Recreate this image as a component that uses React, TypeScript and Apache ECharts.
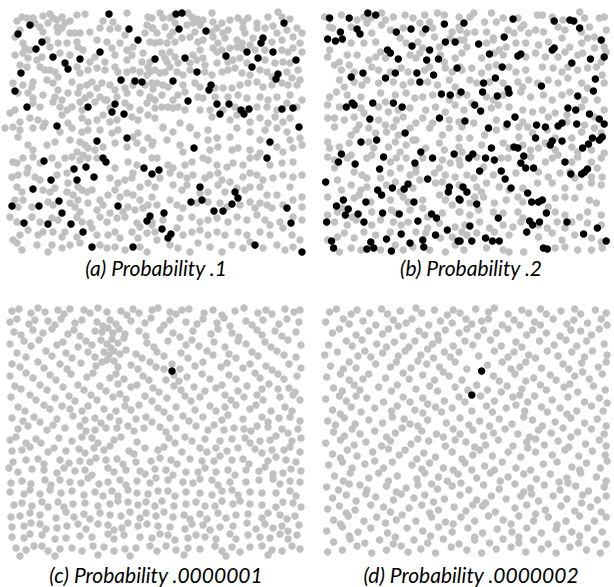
import React, { useEffect, useRef } from "react";
import * as echarts from "echarts";

// Panel (a): probability .1 — gray = not chosen, black = chosen
const panelAGray: number[][] = [
  [17,21],[22,17],[27,18],[33,18],[35,23],[43,16],[50,14],[53,18],[48,23],[57,20],[62,17],[65,23],[70,21],[77,15],[85,14],[103,21],[113,22],[127,13],[148,17],[147,25],
  [15,37],[20,30],[40,27],[43,32],[57,27],[58,32],[62,28],[70,33],[75,33],[80,33],[90,32],[100,28],[110,29],[118,28],[125,35],[145,33],[152,28],
  [23,43],[25,48],[30,50],[47,40],[50,47],[58,43],[67,43],[77,42],[78,47],[83,50],[97,40],[107,42],[112,48],[120,43],[127,50],[133,47],[143,53],[150,42],
  [15,55],[23,53],[28,58],[37,60],[42,57],[60,53],[70,55],[90,62],[95,57],[105,62],[115,55],[127,60],[132,55],[142,62],[148,67],
  [20,65],[27,67],[40,67],[45,70],[50,70],[55,72],[58,77],[77,67],[80,73],[88,70],[97,68],[105,70],[115,67],[118,72],[127,72],[133,70],[140,72],[147,75],[150,72],
  [13,83],[23,85],[32,87],[33,82],[47,80],[53,83],[58,90],[72,82],[80,87],[87,85],[92,82],[97,88],[102,83],[110,85],[115,90],[125,88],[133,85],[145,85],[152,83],
  [18,93],[28,93],[33,98],[43,95],[55,97],[62,100],[68,93],[78,93],[85,98],[90,95],[100,97],[107,100],[117,97],[127,93],[140,93],[150,97],
  [10,113],[15,110],[33,103],[40,107],[53,102],[60,107],[67,110],[72,107],[80,102],[82,110],[95,102],[105,100],[110,108],[125,103],[130,107],[140,110],[147,103],
  [5,128],[13,127],[20,122],[30,118],[38,120],[45,123],[62,115],[68,123],[82,118],[88,122],[97,120],[103,115],[110,122],[117,120],[132,117],[138,120],[148,115],
  [152,18],[160,13],[163,18],[170,18],[173,16],[188,13],[192,17],[197,19],[203,20],[212,13],[213,22],[222,23],[230,20],[238,18],[243,22],[248,18],[257,23],[268,17],[278,12],[282,17],[290,19],
  [153,28],[157,33],[165,27],[173,32],[175,23],[187,25],[193,23],[200,25],[195,32],[212,32],[217,28],[223,33],[228,30],[243,28],[245,33],[257,28],[265,28],[273,26],[277,33],[287,30],[297,28],[302,33],
  [155,43],[160,42],[167,43],[170,36],[175,42],[182,38],[190,37],[198,42],[203,40],[213,37],[218,43],[225,38],[237,40],[242,43],[250,45],[253,38],[272,42],[282,40],[293,37],[300,43],
  [162,53],[165,58],[170,52],[175,57],[193,55],[200,50],[203,58],[213,48],[217,52],[222,50],[230,48],[237,47],[242,48],[255,50],[265,50],[282,50],[288,52],[293,48],[302,52],
  [150,62],[167,62],[170,67],[178,63],[190,63],[197,60],[205,65],[217,63],[228,62],[233,60],[240,58],[247,63],[265,60],[275,63],[283,62],[290,63],[298,70],
  [155,70],[160,73],[165,72],[177,72],[183,75],[190,70],[205,72],[212,75],[222,72],[228,70],[235,68],[242,73],[250,75],[260,70],[267,72],[272,77],[287,72],[292,78],[300,80],
  [157,83],[153,89],[163,85],[168,87],[183,85],[185,92],[195,83],[200,87],[215,88],[223,88],[232,88],[240,85],[248,83],[257,82],[263,87],[272,85],[282,83],[288,85],[297,85],
  [150,98],[155,100],[162,95],[173,100],[178,95],[198,97],[203,98],[215,97],[228,97],[238,95],[247,98],[260,97],[268,100],[277,97],[290,95],[302,100],
  [155,108],[162,107],[168,107],[173,108],[178,107],[185,110],[200,110],[210,110],[223,110],[235,107],[257,107],[267,107],[277,110],[287,103],[297,107],
  [155,118],[163,127],[180,123],[190,127],[212,117],[230,120],[237,115],[250,122],[260,118],[268,123],[275,117],[283,122],[290,118],
  [18,137],[20,130],[33,128],[43,127],[60,132],[72,128],[82,132],[88,130],[100,130],[112,133],[118,130],[133,137],[138,133],[148,138],
  [28,145],[33,150],[47,145],[55,142],[70,140],[80,142],[85,145],[88,148],[77,152],[83,155],[95,150],[103,147],[115,143],[127,147],[137,143],[143,150],[152,145],
  [13,162],[17,163],[23,158],[33,157],[40,163],[28,168],[52,158],[58,165],[65,158],[72,157],[80,160],[88,158],[97,158],[115,168],[128,162],[137,165],[152,158],[133,173],
  [12,177],[18,175],[27,173],[35,177],[40,180],[57,175],[67,173],[68,183],[78,187],[82,190],[87,192],[92,190],[110,178],[118,183],[125,180],[132,178],[140,187],[148,183],
  [17,187],[22,192],[43,190],[50,192],[55,188],[67,192],[73,195],[78,200],[100,200],[108,195],[115,190],[120,197],[127,193],[133,195],[140,200],[152,197],
  [15,200],[23,200],[18,207],[32,207],[48,202],[53,205],[70,203],[75,207],[80,212],[88,203],[97,210],[103,205],[110,213],[123,212],[128,207],[135,210],[143,208],[148,205],
  [10,217],[17,222],[32,217],[40,222],[52,218],[58,220],[77,217],[82,222],[90,223],[100,217],[107,222],[117,218],[125,217],[137,223],[140,227],[152,225],
  [13,240],[20,235],[28,230],[38,235],[43,232],[53,232],[62,237],[65,232],[77,237],[92,228],[97,235],[108,235],[115,232],[120,238],[132,232],[138,238],[147,233],
  [17,243],[22,250],[37,245],[48,252],[52,245],[62,248],[70,245],[80,243],[100,245],[107,248],[115,247],[125,250],[140,247],[147,252],
  [163,128],[173,132],[190,128],[197,135],[208,130],[217,138],[230,137],[237,128],[250,132],[260,140],[265,130],[277,128],[287,132],[290,140],[300,138],
  [153,142],[167,140],[180,145],[183,152],[208,140],[210,150],[218,147],[232,150],[238,148],[250,150],[260,153],[277,147],[283,152],[293,148],[302,145],
  [157,158],[168,165],[173,168],[185,165],[192,162],[203,158],[208,160],[217,165],[227,167],[233,163],[243,165],[250,158],[257,157],[270,165],[282,163],[293,162],
  [160,178],[170,173],[180,175],[187,178],[193,175],[205,178],[210,175],[218,173],[222,180],[230,182],[243,177],[250,173],[257,175],[263,180],[273,178],[283,175],[293,177],[302,175],
  [155,187],[173,185],[182,190],[187,185],[200,193],[208,192],[218,185],[225,192],[237,188],[245,190],[250,187],[260,187],[267,195],[277,195],[290,187],[302,197],
  [157,205],[170,200],[177,205],[183,208],[197,203],[208,202],[220,203],[227,207],[240,205],[250,202],[255,208],[260,203],[267,205],[272,208],[283,205],[293,200],[302,207],
  [152,222],[163,220],[180,218],[192,217],[200,222],[208,220],[217,218],[228,222],[237,217],[247,220],[257,215],[265,220],[270,225],[280,222],[293,217],[302,220],
  [155,232],[177,228],[183,235],[192,232],[200,230],[208,235],[217,232],[225,235],[238,232],[247,235],[260,232],[270,235],[283,228],[292,235],[300,240],
  [157,240],[170,245],[178,248],[190,252],[198,243],[210,247],[222,252],[232,245],[243,248],[250,242],[263,248],[277,245],[285,250],[293,247]
];
const panelABlack: number[][] = [
  [109,14],[30,25],[18,34],[129,29],[42,42],[138,40],[36,49],[100,52],[53,57],[65,63],[68,69],[80,59],[155,59],[21,73],[121,80],[135,81],[142,82],[15,91],[27,107],[88,107],[115,104],[112,112],[124,114],[57,126],
  [176,14],[182,13],[179,29],[206,31],[284,23],[263,38],[261,43],[185,58],[226,56],[247,52],[258,58],[273,52],[296,60],[252,67],[197,72],[173,81],[278,74],[276,79],[211,85],[209,90],[188,101],[217,104],[229,104],[241,110],[244,114],[249,109],[220,114],[282,109],[293,108],[299,127],
  [97,141],[127,138],[44,161],[103,158],[106,162],[74,169],[86,167],[94,177],[144,168],[152,174],[51,180],[77,180],[33,189],[59,201],[12,206],[39,206],[118,206],[62,213],[150,216],[147,221],[24,223],[48,224],[71,224],[83,232],[92,247],[133,247],
  [270,142],[194,148],[267,158],[159,170],[200,187],[191,202],[202,200],[235,192],[238,198],[232,204],[214,211],[223,211],[287,208],[164,213],[291,223],[162,229],[171,234],[168,238],[255,245],[302,252]
];

// Panel (b): probability .2
const panelBGray: number[][] = [
  [325,17],[333,28],[342,15],[358,20],[365,17],[372,18],[383,13],[387,20],[395,17],[407,15],[415,18],[427,15],[440,13],[447,15],[432,22],[462,17],
  [330,27],[352,27],[368,23],[373,33],[383,25],[392,30],[405,28],[422,23],[425,33],[435,28],[437,37],[455,32],[462,27],
  [330,50],[352,43],[365,43],[377,42],[382,52],[402,38],[408,43],[420,42],[425,48],[442,47],[453,38],[463,40],
  [328,57],[340,62],[348,55],[358,55],[370,60],[377,57],[387,58],[412,55],[418,58],[422,53],[443,55],[447,62],[458,58],
  [335,65],[342,70],[350,65],[355,72],[373,67],[380,70],[392,72],[403,68],[410,72],[427,70],[432,67],[448,68],[455,72],[463,67],
  [340,80],[345,87],[355,82],[363,85],[368,80],[380,83],[395,82],[405,85],[413,82],[430,82],[440,85],[452,80],[458,87],
  [330,97],[337,92],[348,95],[362,97],[382,93],[387,102],[397,95],[408,93],[417,98],[425,97],[435,95],[452,100],[462,95],
  [328,105],[340,107],[362,108],[365,113],[380,107],[390,112],[400,110],[412,108],[428,110],[438,107],[448,112],[458,105],
  [328,118],[335,118],[345,120],[355,117],[360,125],[380,120],[387,125],[398,120],[405,117],[418,123],[425,118],[435,123],[452,120],[462,122],
  [473,17],[477,13],[488,22],[495,13],[500,22],[507,18],[522,18],[528,25],[542,15],[547,15],[557,17],[568,20],[585,12],[590,18],[605,18],[610,17],
  [463,30],[470,33],[478,32],[490,32],[497,38],[512,30],[518,33],[525,28],[533,33],[540,30],[548,32],[563,27],[570,30],[587,32],[595,27],[600,37],[612,30],
  [467,40],[470,47],[490,43],[497,40],[503,50],[510,47],[520,43],[530,43],[543,45],[553,42],[567,38],[575,47],[587,43],[593,38],[600,48],[610,47],
  [465,53],[485,58],[498,53],[507,55],[530,57],[540,53],[550,57],[563,57],[570,52],[583,55],[588,53],[607,62],[612,52],
  [465,70],[475,68],[485,73],[492,67],[500,65],[513,67],[520,72],[530,70],[547,67],[558,68],[567,72],[573,67],[583,70],[593,68],[602,67],[608,75],
  [473,80],[480,83],[493,82],[507,83],[522,82],[527,87],[533,80],[542,83],[553,80],[563,83],[573,78],[587,83],[593,88],[610,83],
  [470,95],[490,97],[497,100],[507,95],[525,92],[535,97],[548,95],[557,100],[567,95],[575,92],[590,100],[603,100],
  [467,110],[475,103],[495,108],[502,105],[513,107],[527,110],[537,112],[547,110],[560,113],[572,115],[587,107],[610,110],
  [477,123],[500,120],[527,122],[532,127],[553,117],[572,122],[590,125],[600,117],
  [335,127],[352,135],[357,130],[370,128],[377,133],[388,132],[395,127],[400,135],[412,128],[418,140],[432,128],[445,135],[452,128],[462,138],
  [328,142],[330,148],[340,147],[350,143],[370,142],[375,148],[390,147],[397,142],[402,152],[408,145],[415,140],[428,148],[442,143],[447,150],[462,147],
  [328,157],[335,160],[348,158],[352,155],[368,158],[373,155],[392,162],[398,158],[408,158],[418,167],[425,158],[445,160],[453,163],[462,160],
  [335,168],[355,172],[363,175],[368,178],[382,178],[392,173],[402,168],[412,175],[418,172],[437,173],[442,168],[448,175],[458,177],
  [338,180],[342,190],[352,185],[362,190],[368,187],[388,185],[397,182],[402,192],[415,188],[422,180],[438,183],[445,182],[462,185],
  [328,197],[355,198],[360,195],[372,202],[392,200],[405,197],[410,202],[425,200],[442,195],[448,200],[455,205],
  [328,215],[338,212],[343,208],[353,217],[373,212],[393,210],[398,213],[412,210],[425,208],[430,217],[445,213],[462,212],
  [335,222],[348,225],[357,220],[373,225],[382,220],[395,222],[403,225],[410,222],[430,228],[442,223],[458,227],
  [328,240],[338,237],[345,233],[355,238],[365,232],[377,235],[392,232],[418,232],[428,233],[443,238],[455,237],[465,232],
  [340,252],[352,248],[362,250],[382,250],[397,245],[405,250],[415,247],[432,250],[448,252],[458,245],
  [465,127],[473,138],[488,135],[500,130],[510,127],[523,127],[523,137],[537,133],[552,130],[560,138],[577,138],[587,132],[600,128],[607,133],
  [465,152],[485,145],[507,143],[513,148],[527,145],[535,150],[543,148],[550,143],[560,150],[577,147],[583,152],[597,150],[610,153],
  [463,165],[480,157],[487,167],[505,158],[512,158],[535,157],[550,162],[557,158],[563,155],[577,162],[583,157],[597,162],[607,158],
  [470,175],[477,178],[497,175],[520,173],[543,172],[553,177],[565,173],[575,172],[580,178],[597,177],[608,177],[603,168],
  [480,187],[485,192],[490,183],[503,187],[513,190],[527,188],[542,183],[557,183],[570,188],[585,187],[597,183],[607,185],
  [473,203],[478,197],[487,197],[498,203],[510,200],[522,197],[527,202],[553,207],[560,198],[570,197],[580,198],[595,200],[602,203],
  [463,212],[473,215],[482,210],[497,212],[507,213],[522,212],[527,218],[560,212],[570,215],[585,217],[593,212],[607,215],
  [468,225],[483,222],[493,228],[507,225],[517,227],[525,222],[543,225],[552,228],[562,222],[570,228],[577,222],[593,223],[607,225],
  [470,235],[480,233],[498,232],[513,235],[543,237],[557,233],[567,240],[580,235],[597,238],[607,242],
  [467,250],[490,248],[507,250],[513,252],[528,252],[560,248],[570,247],[583,250],[597,250],[608,248]
];
const panelBBlack: number[][] = [
  [330,18],[350,18],[369,13],[377,15],[341,32],[328,39],[336,41],[343,39],[358,29],[361,34],[398,32],[413,29],[428,29],[447,24],[448,42],[458,42],[414,46],[432,50],[389,50],[392,53],[400,59],[429,60],[441,59],[460,68],[364,73],[352,77],[387,78],[397,73],[419,73],[422,82],[436,75],[444,94],[453,95],[353,103],[355,105],[347,107],[374,103],[395,103],[404,107],[371,119],[442,118],
  [467,23],[517,19],[559,21],[575,20],[579,21],[585,28],[508,37],[482,44],[493,54],[522,56],[525,54],[557,50],[559,48],[607,40],[610,57],[577,63],[596,59],[506,67],[499,78],[487,83],[601,79],[546,86],[512,89],[513,93],[464,92],[486,92],[501,96],[583,96],[599,91],[478,105],[484,111],[573,108],[581,110],[595,114],[605,119],[468,121],[519,117],[511,124],[492,128],[541,125],[550,127],[563,126],[567,123],[582,124],[610,124],
  [407,133],[362,142],[378,140],[342,154],[339,162],[385,157],[356,164],[423,152],[435,158],[457,154],[381,169],[417,163],[430,179],[326,182],[410,184],[406,189],[394,188],[379,190],[383,195],[452,187],[451,192],[462,199],[344,200],[337,206],[367,202],[416,202],[349,209],[346,215],[359,214],[384,213],[401,214],[434,214],[439,218],[327,222],[365,222],[420,221],[450,230],[403,234],[438,235],[332,241],[334,248],[372,242],[388,239],[412,243],[425,240],[426,247],[461,241],[368,249],[375,248],[393,251],
  [540,138],[557,141],[555,145],[567,141],[598,138],[605,140],[608,137],[594,144],[588,148],[495,148],[518,147],[522,148],[472,158],[476,154],[489,158],[498,160],[528,156],[525,163],[530,168],[538,168],[570,162],[483,171],[505,171],[509,179],[576,174],[587,174],[590,172],[593,169],[466,187],[470,192],[515,188],[532,193],[463,200],[480,204],[536,202],[543,202],[547,200],[551,213],[502,218],[534,221],[537,225],[544,222],[572,222],[603,228],[473,226],[531,232],[589,234],[463,241],[475,241],[489,238],[496,241],[503,241],[612,241],[548,248],[552,249]
];

// Panel (c): probability .0000001
const panelCGray: number[][] = [
  [12,311],[19,309],[31,313],[38,308],[45,312],[58,310],[64,314],[70,309],[84,310],[90,313],[98,308],[107,312],[121,311],[127,315],[133,309],[139,313],[152,310],[158,308],[170,312],[176,314],[182,310],[189,309],[204,313],[213,310],[222,315],[235,311],[244,308],[258,313],[266,310],[272,314],[285,309],[294,312],[300,310],
  [10,322],[17,319],[29,324],[35,320],[48,321],[55,325],[61,319],[75,323],[82,320],[97,322],[103,326],[110,320],[116,324],[131,321],[145,323],[151,318],[164,325],[170,320],[186,322],[197,324],[203,319],[217,323],[224,318],[230,326],[246,321],[252,325],[263,320],[279,324],[287,319],[299,322],
  [14,332],[21,335],[33,330],[43,333],[52,329],[68,334],[74,330],[80,336],[95,331],[102,332],[108,328],[113,333],[119,329],[125,334],[139,331],[146,336],[160,330],[173,333],[180,337],[193,331],[211,334],[218,329],[232,333],[239,337],[257,330],[262,335],[275,331],[282,336],[296,332],
  [10,344],[24,341],[31,346],[39,340],[57,345],[63,342],[78,347],[86,341],[92,345],[101,340],[107,344],[112,339],[118,343],[124,338],[111,348],[147,343],[154,347],[168,341],[186,345],[192,340],[199,346],[214,342],[225,347],[238,341],[246,344],[265,342],[271,347],[288,340],[301,345],
  [17,353],[26,357],[46,351],[52,356],[66,353],[72,358],[88,352],[95,357],[104,352],[109,355],[114,351],[120,354],[126,350],[107,360],[114,361],[136,354],[142,358],[157,352],[164,356],[181,353],[188,358],[207,351],[213,355],[229,354],[236,358],[252,352],[258,356],[277,351],[284,355],[296,357],
  [12,364],[20,367],[38,362],[44,368],[60,364],[67,369],[81,363],[96,366],[102,362],[118,367],[131,365],[138,369],[150,362],[156,367],[164,369],[172,364],[180,369],[195,366],[203,362],[221,367],[227,363],[243,368],[250,364],[266,366],[272,370],[289,364],[301,368],
  [10,376],[26,373],[33,378],[50,375],[56,380],[71,374],[87,377],[93,373],[110,378],[116,374],[124,379],[143,376],[149,380],[166,380],[174,375],[179,381],[187,377],[202,374],[210,379],[229,375],[236,379],[255,373],[260,378],[278,374],[284,379],[297,376],
  [15,386],[21,389],[40,385],[47,390],[63,387],[78,385],[84,390],[100,386],[106,391],[118,384],[131,387],[137,385],[153,388],[159,392],[174,386],[181,390],[194,387],[205,391],[216,388],[222,385],[238,391],[247,386],[262,389],[269,384],[278,389],[289,388],[295,392],
  [11,397],[30,395],[36,400],[55,398],[69,396],[75,401],[91,395],[97,400],[113,397],[120,394],[126,399],[145,396],[152,401],[167,398],[185,396],[191,401],[200,397],[225,395],[231,400],[244,397],[257,395],[263,400],[280,397],[293,395],[300,400],
  [18,407],[25,411],[44,405],[50,409],[62,406],[70,409],[82,411],[88,406],[104,409],[116,411],[125,406],[131,410],[139,405],[158,408],[164,412],[176,407],[195,410],[210,406],[216,411],[225,407],[236,405],[250,409],[256,405],[271,411],[285,407],[292,411],
  [12,418],[23,421],[34,417],[40,422],[57,419],[73,416],[85,420],[95,418],[101,423],[110,417],[119,421],[136,419],[146,417],[152,422],[170,418],[183,416],[189,421],[203,417],[222,420],[228,415],[243,419],[262,417],[268,422],[279,418],[290,417],[300,421],
  [18,429],[28,426],[47,430],[53,425],[65,428],[80,426],[86,431],[95,430],[106,428],[117,428],[128,426],[134,431],[144,428],[160,427],[166,432],[176,428],[196,426],[208,430],[214,425],[224,430],[234,428],[244,429],[251,431],[257,426],[268,427],[282,429],[288,433],[298,429],
  [10,440],[16,437],[26,443],[36,439],[41,443],[59,438],[72,441],[82,437],[92,438],[98,443],[114,440],[121,437],[137,442],[169,438],[175,443],[185,437],[192,441],[205,439],[220,441],[232,439],[245,438],[250,443],[260,441],[270,440],[276,436],[292,441],[301,438],
  [12,451],[22,450],[30,447],[48,452],[54,448],[66,451],[79,449],[85,453],[94,448],[104,450],[110,446],[129,451],[134,454],[145,448],[158,450],[164,447],[182,452],[200,448],[207,452],[216,448],[227,451],[238,448],[255,449],[262,453],[272,450],[284,450],[290,447],[300,452],
  [13,462],[26,460],[38,459],[44,464],[60,460],[69,463],[80,461],[90,462],[96,458],[106,460],[117,459],[123,464],[136,462],[151,461],[160,458],[171,460],[177,464],[190,459],[202,461],[214,461],[220,456],[232,460],[243,459],[249,464],[268,461],[276,457],[286,460],[296,462],
  [9,468],[18,472],[32,469],[44,470],[57,473],[64,468],[75,471],[85,470],[92,475],[108,468],[114,472],[126,470],[140,471],[145,474],[155,469],[166,470],[173,475],[186,472],[198,472],[205,468],[216,472],[228,470],[235,475],[246,470],[259,471],[265,467],[273,474],[283,473],[291,469],[301,471],
  [11,483],[22,481],[31,484],[45,480],[51,485],[60,480],[70,482],[81,483],[88,478],[99,484],[108,482],[120,480],[126,485],[137,481],[150,483],[156,478],[168,480],[183,482],[193,483],[200,479],[212,480],[218,485],[230,482],[246,482],[259,480],[273,479],[280,484],[290,481],[300,482],
  [10,492],[24,494],[30,490],[40,494],[50,490],[61,493],[72,491],[84,495],[95,492],[103,496],[112,491],[118,496],[128,490],[137,493],[148,494],[158,491],[168,491],[175,496],[186,492],[200,493],[212,495],[222,491],[232,490],[238,495],[250,492],[262,493],[276,493],[290,491],[296,496],
  [14,505],[22,503],[32,506],[42,502],[48,507],[58,502],[64,507],[73,504],[85,503],[98,506],[110,504],[118,501],[128,502],[138,505],[146,502],[155,506],[162,501],[174,506],[186,504],[196,502],[205,506],[215,506],[222,501],[233,504],[240,501],[250,504],[262,505],[276,507],[283,502],[293,503],[301,507],
  [11,517],[20,516],[30,513],[40,515],[56,518],[66,512],[74,517],[84,514],[90,519],[100,513],[110,515],[121,516],[130,512],[140,518],[146,513],[156,516],[164,512],[173,517],[184,515],[190,519],[200,514],[207,519],[218,513],[226,518],[236,515],[248,514],[262,518],[268,513],[280,515],[287,519],[295,516],
  [12,527],[24,526],[31,523],[40,524],[46,529],[57,528],[67,526],[78,524],[86,529],[98,524],[108,525],[114,530],[122,528],[128,523],[138,526],[147,524],[158,526],[170,527],[185,529],[192,524],[203,525],[210,530],[220,527],[233,526],[247,523],[256,529],[265,524],[273,528],[282,526],[288,531],[299,525],
  [12,537],[24,538],[30,534],[42,535],[55,539],[66,538],[80,536],[92,537],[108,534],[114,539],[124,535],[140,537],[152,538],[160,534],[168,535],[175,540],[188,538],[196,535],[205,537],[216,539],[230,534],[236,539],[248,535],[260,537],[270,538],[280,534],[288,539],[297,535],
  [16,548],[26,550],[34,546],[42,546],[48,551],[60,549],[72,548],[82,551],[93,546],[104,547],[114,551],[125,549],[136,548],[150,546],[157,551],[166,546],[176,550],[188,548],[200,549],[215,546],[222,551],[232,547],[240,552],[250,547],[262,546],[272,550],[282,551],[292,546],[300,549],
  [20,556],[55,556],[98,555],[130,556],[184,555],[226,556],[268,555]
];
const panelCBlack: number[][] = [[172,371]];

// Panel (d): probability .0000002
const panelDGray: number[][] = [
  [330,312],[337,309],[352,314],[358,310],[371,313],[383,309],[389,314],[402,311],[418,308],[424,313],[437,310],[450,315],[456,310],[463,313],[479,309],[492,312],[498,308],[512,314],[526,310],[533,313],[545,309],[551,314],[566,311],[580,309],[586,314],[601,310],[612,313],
  [326,322],[344,319],[350,324],[364,321],[377,325],[395,320],[408,323],[414,319],[431,325],[443,321],[469,319],[475,324],[485,321],[506,325],[518,320],[524,325],[539,322],[558,319],[572,324],[579,320],[593,323],[607,319],[613,325],[400,326],[455,323],[492,319],[545,325],
  [333,333],[340,329],[357,335],[370,331],[384,334],[390,329],[405,336],[421,331],[427,335],[448,330],[462,333],[481,336],[487,330],[500,333],[512,329],[531,335],[537,330],[551,333],[565,336],[586,331],[597,335],[605,329],[440,335],[470,329],[576,330],
  [329,345],[347,341],[353,346],[363,340],[378,344],[396,342],[411,347],[417,341],[435,344],[441,340],[456,346],[468,341],[476,345],[494,340],[505,346],[520,342],[526,347],[544,341],[559,345],[571,340],[582,346],[592,341],[610,344],[388,347],[430,349],
  [325,355],[338,352],[359,356],[366,351],[372,357],[384,353],[400,356],[407,351],[423,355],[447,352],[453,357],[462,352],[482,356],[498,351],[512,357],[518,352],[533,355],[552,351],[563,356],[577,352],[590,357],[598,351],[613,355],[436,358],[540,358],
  [331,366],[350,362],[357,368],[377,364],[392,367],[398,362],[413,368],[429,364],[442,367],[458,362],[470,369],[491,365],[506,362],[524,367],[530,362],[546,368],[568,364],[574,369],[587,363],[604,367],[612,362],[344,369],[420,361],[515,369],
  [327,377],[341,374],[364,379],[370,374],[387,378],[405,373],[411,379],[425,375],[437,380],[452,376],[465,380],[497,376],[503,381],[519,374],[538,378],[555,375],[561,380],[580,376],[595,379],[608,374],[350,380],[446,372],[530,381],[588,372],
  [334,388],[355,385],[361,390],[380,387],[393,391],[399,385],[418,389],[432,386],[440,391],[458,387],[471,390],[480,385],[491,390],[511,386],[526,389],[545,385],[551,390],[569,387],[583,392],[599,386],[611,390],[343,391],[505,392],[575,384],
  [326,399],[340,396],[347,401],[368,398],[385,402],[405,397],[412,402],[425,398],[447,401],[462,397],[468,402],[484,396],[498,401],[517,397],[532,402],[539,396],[557,400],[573,397],[590,402],[605,398],[357,396],[430,404],[524,395],[613,403],
  [333,410],[352,407],[362,412],[376,408],[393,411],[399,406],[417,410],[438,407],[444,412],[455,408],[475,411],[490,406],[496,412],[510,408],[529,411],[546,407],[552,412],[565,408],[582,411],[597,406],[609,411],[341,414],[425,413],[520,405],[572,414],
  [328,421],[345,418],[370,420],[384,423],[406,419],[412,424],[430,420],[449,423],[463,418],[483,421],[503,419],[516,424],[537,420],[560,422],[576,418],[590,423],[603,419],[336,425],[356,424],[394,417],[420,426],[472,425],[493,426],[528,417],[547,426],[612,426],
  [334,432],[353,429],[361,434],[376,431],[397,433],[404,428],[424,431],[439,434],[456,429],[463,434],[476,430],[497,433],[509,429],[522,434],[543,430],[556,433],[568,428],[583,432],[597,429],[610,434],[345,436],[388,437],[446,437],[487,436],[534,437],[576,437],
  [326,443],[341,440],[367,442],[383,446],[392,441],[413,444],[431,441],[448,446],[469,442],[489,445],[502,440],[517,446],[531,442],[549,445],[563,441],[591,444],[605,440],[355,445],[420,439],[458,440],[478,447],[540,439],[574,447],[612,446],
  [333,454],[348,450],[358,456],[374,452],[401,455],[407,450],[426,453],[438,457],[455,452],[476,455],[483,450],[496,456],[512,452],[525,457],[540,452],[557,455],[570,450],[584,456],[598,451],[611,455],[341,458],[390,449],[419,459],[465,459],[532,448],
  [329,465],[343,462],[366,464],[385,468],[394,462],[414,465],[432,463],[446,468],[468,463],[488,466],[506,462],[520,468],[548,464],[562,462],[577,467],[592,463],[606,468],[353,468],[376,461],[424,469],[456,470],[475,470],[498,470],[535,470],[585,470],[613,461],
  [335,476],[351,473],[370,478],[380,473],[399,476],[419,479],[427,473],[441,477],[461,474],[480,478],[494,473],[512,477],[528,474],[541,479],[555,474],[572,478],[586,473],[602,477],[344,481],[390,481],[450,481],[504,481],[564,482],[612,481],
  [327,487],[361,485],[368,490],[388,486],[408,488],[434,484],[440,489],[455,486],[472,490],[487,485],[503,489],[519,484],[535,488],[549,485],[565,490],[581,486],[594,491],[610,487],[339,490],[350,484],[398,492],[420,485],[464,483],[528,492],[573,483],
  [333,498],[347,495],[377,497],[395,500],[403,494],[416,498],[427,495],[447,499],[463,495],[480,500],[495,496],[510,499],[525,496],[543,501],[558,496],[572,499],[588,495],[603,500],[357,501],[367,494],[436,502],[489,503],[536,494],[612,496],
  [328,509],[340,506],[356,510],[385,507],[392,512],[411,508],[424,505],[441,510],[457,507],[469,511],[486,506],[499,512],[519,508],[531,505],[550,510],[566,506],[580,511],[596,507],[607,512],[347,513],[372,505],[432,513],[476,505],[540,514],[587,503],
  [334,520],[349,516],[365,521],[378,517],[398,520],[404,515],[418,521],[434,517],[448,522],[464,517],[478,521],[492,516],[507,520],[523,516],[538,521],[553,517],[571,521],[585,516],[600,521],[612,517],[341,524],[387,523],[456,524],[515,524],[562,525],
  [327,531],[343,527],[359,532],[372,528],[389,533],[409,528],[425,531],[441,527],[455,532],[471,528],[486,533],[501,529],[516,532],[531,528],[546,533],[561,529],[577,532],[593,528],[608,532],[350,536],[397,537],[433,536],[478,537],[523,537],[585,536],
  [334,542],[351,539],[366,543],[381,540],[395,544],[416,540],[430,543],[446,539],[462,544],[478,540],[493,543],[507,539],[523,543],[538,540],[553,544],[568,539],[584,543],[600,540],[612,544],[358,546],[403,546],[454,547],[515,547],[575,547],
  [328,552],[343,550],[373,553],[388,550],[410,552],[423,549],[438,553],[470,550],[485,553],[500,549],[530,552],[546,549],[561,553],[592,550],[606,553]
];
const panelDBlack: number[][] = [[485,371],[475,395]];

const captions = [
  "(a) Probability .1",
  "(b) Probability .2",
  "(c) Probability .0000001",
  "(d) Probability .0000002",
];

const GRAY = "#c0c0c0";
const BLACK = "#000000";

export default function App() {
  const ref = useRef<HTMLDivElement>(null);
  useEffect(() => {
    if (!ref.current) return;
    const chart = echarts.init(ref.current, null, { renderer: "svg" });
    const panels = [
      { gray: panelAGray, black: panelABlack, grid: { left: 0, top: 0, width: 310, height: 290 }, x: [0, 310], y: [0, 290], cap: [156, 267] },
      { gray: panelBGray, black: panelBBlack, grid: { left: 310, top: 0, width: 310, height: 290 }, x: [310, 620], y: [0, 290], cap: [471, 267] },
      { gray: panelCGray, black: panelCBlack, grid: { left: 0, top: 290, width: 310, height: 297 }, x: [0, 310], y: [290, 587], cap: [156, 574] },
      { gray: panelDGray, black: panelDBlack, grid: { left: 310, top: 290, width: 310, height: 297 }, x: [310, 620], y: [290, 587], cap: [471, 574] },
    ];
    const series: any[] = [];
    panels.forEach((p, i) => {
      series.push({
        type: "scatter", xAxisIndex: i, yAxisIndex: i, data: p.gray, symbol: "circle", symbolSize: 7.5,
        itemStyle: { color: GRAY, opacity: 1 }, silent: true, clip: false, z: 2,
      });
      series.push({
        type: "scatter", xAxisIndex: i, yAxisIndex: i, data: p.black, symbol: "circle", symbolSize: 7.5,
        itemStyle: { color: BLACK, opacity: 1 }, silent: true, clip: false, z: 3,
      });
    });
    chart.setOption({
      animation: false,
      backgroundColor: "#ffffff",
      grid: panels.map((p) => ({ ...p.grid, containLabel: false })),
      xAxis: panels.map((p, i) => ({ type: "value", gridIndex: i, min: p.x[0], max: p.x[1], show: false })),
      yAxis: panels.map((p, i) => ({ type: "value", gridIndex: i, min: p.y[0], max: p.y[1], inverse: true, show: false })),
      series,
      graphic: panels.map((p, i) => ({
        type: "text",
        x: p.cap[0],
        y: p.cap[1],
        style: {
          text: captions[i],
          fill: "#000",
          font: "italic 21px Lato, 'Open Sans', sans-serif",
          textAlign: "center",
          textVerticalAlign: "middle",
        },
      })),
    });
    return () => chart.dispose();
  }, []);
  return <div ref={ref} style={{ position: "fixed", left: 0, top: 0, width: 614, height: 587 }} />;
}
